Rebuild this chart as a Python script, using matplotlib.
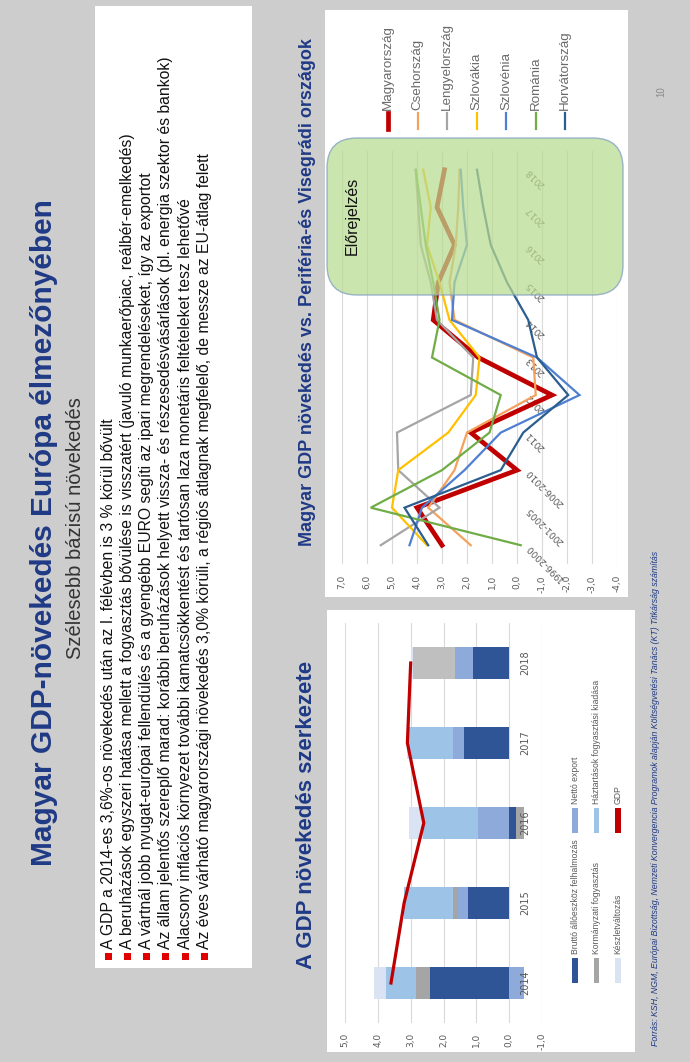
import matplotlib
matplotlib.use('Agg')
import matplotlib.pyplot as plt
from matplotlib.patches import Rectangle, FancyBboxPatch
from matplotlib.lines import Line2D

W, H = 690, 1062

# GDP növekedés szerkezete (százalékpont)
evek = ['2014', '2015', '2016', '2017', '2018']
beruhazas = [2.4, 1.25, -0.2, 1.37, 1.1]
netto_export = [-0.45, 0.3, 0.95, 0.33, 0.55]
kormanyzati = [0.43, 0.15, -0.25, 0.0, 1.28]
haztartasi = [0.93, 1.5, 1.68, 1.35, 0.0]
keszlet = [0.35, 0.0, 0.42, 0.05, 0.05]
gdp = [3.6, 3.2, 2.6, 3.1, 3.0]
bar_tick_ertekek = [5, 4, 3, 2, 1, 0, -1]

# régiós növekedési ütemek (%)
idoszakok = ['1996-2000', '2001-2005', '2006-2010', '2011', '2012', '2013',
             '2014', '2015', '2016', '2017', '2018']
magyar = [3.0, 4.0, 0.0, 1.85, -1.4, 1.55, 3.35, 3.15, 2.5, 3.2, 2.9]
cseh = [1.85, 3.55, 2.5, 2.0, -0.75, -0.65, 2.5, 2.7, 2.45, 2.35, 2.3]
lengyel = [5.45, 3.1, 4.75, 4.8, 1.85, 1.75, 3.2, 3.45, 3.85, 3.95, 4.05]
szlovak = [3.6, 5.0, 4.75, 2.75, 1.65, 1.5, 2.7, 3.1, 3.6, 3.45, 3.75]
szloven = [4.3, 3.8, 2.1, 0.65, -2.5, -0.8, 2.6, 2.5, 2.0, 2.15, 2.25]
roman = [-0.15, 5.85, 3.0, 1.1, 0.65, 3.4, 3.1, 3.35, 3.65, 3.85, 4.05]
horvat = [3.55, 4.5, 0.65, -0.25, -2.05, -0.8, -0.45, 0.4, 1.05, 1.35, 1.6]
line_tick_ertekek = [7, 6, 5, 4, 3, 2, 1, 0, -1, -2, -3, -4]

orszagok = ['Magyarország', 'Csehország', 'Lengyelország', 'Szlovákia',
            'Szlovénia', 'Románia', 'Horvátország']
sorok = [magyar, cseh, lengyel, szlovak, szloven, roman, horvat]
szinek = ['#c00000', '#f4a15d', '#a5a5a5', '#ffc000', '#4f7fd0', '#70ad47', '#2b5d8f']

pontok = [
    'A GDP a 2014-es 3,6%-os növekedés után az I. félévben is 3 % körül bővült',
    'A beruházások egyszeri hatása mellett a fogyasztás bővülése is visszatért (javuló munkaerőpiac, reálbér-emelkedés)',
    'A vártnál jobb nyugat-európai fellendülés és a gyengébb EURO segíti az ipari megrendeléseket, így az exportot',
    'Az állam jelentős szereplő marad: korábbi beruházások helyett vissza- és részesedésvásárlások (pl. energia szektor és bankok)',
    'Alacsony inflációs környezet további kamatcsökkentést és tartósan laza monetáris feltételeket tesz lehetővé',
    'Az éves várható magyarországi növekedés 3,0% körüli, a régiós átlagnak megfelelő, de messze az EU-átlag felett',
]

NAVY = '#1f3a86'
GRAY_TXT = '#595959'
SANS = ['Liberation Sans', 'DejaVu Sans']

fig = plt.figure(figsize=(W / 100, H / 100), dpi=100)
fig.patch.set_facecolor('#cdcdcd')


def fpos(x, y):
    return x / W, 1 - y / H


def box(x0, y0, x1, y1, **kw):
    r = Rectangle((x0 / 100, (H - y1) / 100), (x1 - x0) / 100, (y1 - y0) / 100,
                  transform=fig.dpi_scale_trans, **kw)
    fig.patches.append(r)
    return r


def vtext(x, y, s, **kw):
    kw.setdefault('rotation', 90)
    kw.setdefault('rotation_mode', 'anchor')
    kw.setdefault('family', SANS)
    return fig.text(*fpos(x, y), s, **kw)


def axes_px(x0, y0, x1, y1):
    return fig.add_axes([x0 / W, 1 - y1 / H, (x1 - x0) / W, (y1 - y0) / H])


# fehér panelek (a diagramok mögött)
box(95, 6, 252, 968, facecolor='white', edgecolor='none', zorder=-5)
box(325, 10, 628, 597, facecolor='white', edgecolor='none', zorder=-5)
box(327, 610, 635, 1052, facecolor='white', edgecolor='none', zorder=-5)

# főcím
vtext(44, 533, 'Magyar GDP-növekedés Európa élmezőnyében', ha='center', va='center',
      fontsize=21.5, fontweight='bold', color=NAVY)
vtext(76, 528, 'Szélesebb bázisú növekedés', ha='center', va='center',
      fontsize=14.5, color='#333333')

# felsorolás
for i, p in enumerate(pontok):
    x = 108 + i * 19.3
    box(x - 3.5, 953, x + 3.5, 960, facecolor='#e00000', edgecolor='none')
    vtext(x, 949, p, ha='left', va='center', fontsize=11.3, color='#111111')

# panelcímek
vtext(307, 815, 'A GDP növekedés szerkezete', ha='center', va='center',
      fontsize=16, fontweight='bold', color=NAVY)
vtext(308, 292, 'Magyar GDP növekedés vs. Periféria-és Visegrádi országok', ha='center',
      va='center', fontsize=13, fontweight='bold', color=NAVY)

# ---- régiós vonaldiagram ----
ax = axes_px(342, 151, 617, 564)
ax.set_facecolor('none')
n = len(idoszakok)
ypos = list(range(n))
for i, (sor, c) in enumerate(zip(sorok, szinek)):
    ax.plot(sor, ypos, color=c, lw=3.4 if i == 0 else 1.6, solid_joinstyle='miter',
            zorder=2 + i * 0.01)
ax.set_xlim(7, -4)
ax.set_ylim(-0.5, n - 0.5)
ax.set_xticks(line_tick_ertekek)
ax.set_xticklabels([f'{v:.1f}'.replace('.', ',') for v in line_tick_ertekek],
                   rotation=90, fontsize=6.5, color=GRAY_TXT)
ax.tick_params(axis='x', length=0, pad=8)
ax.set_yticks([])
ax.grid(axis='x', color='#dadada', lw=0.8)
ax.set_axisbelow(True)
for s in ax.spines.values():
    s.set_visible(False)
for y, lab in zip(ypos, idoszakok):
    ax.text(-0.42, y, lab, rotation=135, rotation_mode='anchor', ha='right', va='center',
            fontsize=6.5, color=GRAY_TXT, zorder=1.5)

# előrejelzési sáv
fb = FancyBboxPatch((327 / 100, (H - 295) / 100), (623 - 327) / 100, (295 - 138) / 100,
                    boxstyle='round,pad=0,rounding_size=0.3', transform=fig.dpi_scale_trans,
                    facecolor='#b8db90', edgecolor='#7b9cc0', lw=1.0, alpha=0.72, zorder=5,
                    clip_on=False)
ax.add_patch(fb)
ax.text(*fpos(352, 216), 'Előrejelzés', transform=fig.transFigure, rotation=90,
        ha='center', va='center', fontsize=11.5, color='#111111', family=SANS, zorder=6)

# jelmagyarázat (vonalak)
for i, (nev, c) in enumerate(zip(orszagok, szinek)):
    x = 388 + i * 29.5
    fig.lines.append(Line2D([x / W, x / W], [1 - 129 / H, 1 - 113 / H], color=c,
                            lw=3.4 if i == 0 else 1.6, transform=fig.transFigure))
    vtext(x, 110, nev, ha='left', va='center', fontsize=9.6, color='#6a6a6a')

# ---- GDP szerkezet oszlopdiagram ----
bx = axes_px(345, 623, 542, 1023)
bx.set_facecolor('none')
yb = list(range(len(evek)))
sorozatok = [
    ('Bruttó állóeszköz felhalmozás', beruhazas, ['#2f5597'] * 5),
    ('Nettó export', netto_export, ['#8eaadb'] * 5),
    ('Kormányzati fogyasztás', kormanyzati, ['#a5a5a5'] * 4 + ['#bfbfbf']),
    ('Háztartások fogyasztási kiadása', haztartasi, ['#9dc3e6'] * 5),
    ('Készletváltozás', keszlet, ['#dae3f3'] * 5),
]
pos = [0.0] * len(evek)
neg = [0.0] * len(evek)
for nev, vals, cols in sorozatok:
    left = [pos[k] if v >= 0 else neg[k] for k, v in enumerate(vals)]
    bx.barh(yb, vals, left=left, height=0.39, color=cols, zorder=2)
    for k, v in enumerate(vals):
        if v >= 0:
            pos[k] += v
        else:
            neg[k] += v
bx.plot(gdp, yb, color='#c00000', lw=2.3, zorder=4)
bx.set_xlim(5, -1)
bx.set_ylim(-0.5, len(evek) - 0.5)
bx.set_xticks(bar_tick_ertekek)
bx.set_xticklabels([f'{v:.1f}'.replace('.', ',') for v in bar_tick_ertekek],
                   rotation=90, fontsize=6.5, color=GRAY_TXT)
bx.tick_params(axis='x', length=0, pad=7)
bx.set_yticks([])
bx.grid(axis='x', color='#dadada', lw=0.8)
bx.set_axisbelow(True)
for s in bx.spines.values():
    s.set_visible(False)
for y, ev in zip(yb, evek):
    bx.text(-0.5, y, ev, rotation=90, ha='center', va='center', fontsize=7,
            color=GRAY_TXT, zorder=3)

# jelmagyarázat (oszlopok), két csoportban
leg = [(n_, c[0]) for n_, _, c in sorozatok] + [('GDP', '#c00000')]
for j, (nev, c) in enumerate(leg):
    x = 575 + (j // 2) * 21.5
    y0 = 983 if j % 2 == 0 else 833
    box(x - 2.8, y0 - 25, x + 2.8, y0, facecolor=c, edgecolor='none')
    vtext(x, y0 - 29, nev, ha='left', va='center', fontsize=6.2, color=GRAY_TXT)

# forrás és oldalszám
vtext(655, 1046, 'Forrás: KSH, NGM, Európai Bizottság, Nemzeti Konvergencia Programok alapján '
      'Költségvetési Tanács (KT) Titkárság számítás', ha='left', va='center', fontsize=6.3,
      style='italic', color=NAVY)
vtext(661, 92, '10', ha='center', va='center', fontsize=7, color='#8a8a8a')

fig.savefig('out.png', dpi=100, facecolor=fig.get_facecolor())
